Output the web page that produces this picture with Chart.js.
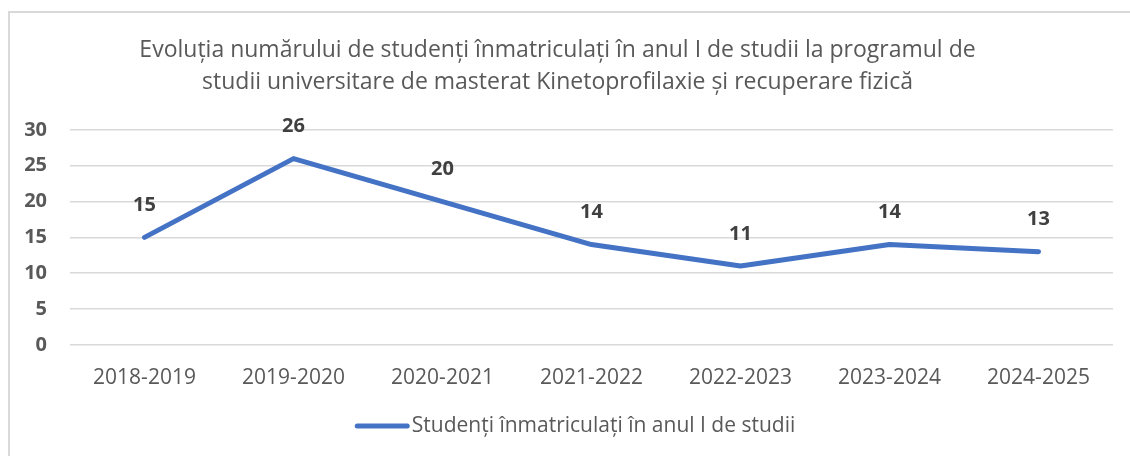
<!DOCTYPE html>
<html>
<head>
<meta charset="utf-8">
<script src="https://cdn.jsdelivr.net/npm/chart.js@4"></script>
<style>
html,body{margin:0;padding:0;background:#fff;overflow:hidden;}
#frame{position:absolute;left:8px;top:11px;width:1140px;height:460px;border:2px solid #d9d9d9;box-sizing:border-box;}
#wrap{position:absolute;left:0;top:0;width:1130px;height:456px;}
</style>
</head>
<body>
<div id="frame"></div>
<div id="wrap"><canvas id="c"></canvas></div>
<script>
const categories = ["2018-2019","2019-2020","2020-2021","2021-2022","2022-2023","2023-2024","2024-2025"];
const students = [15, 26, 20, 14, 11, 14, 13];
const seriesName = "Studenți înmatriculați în anul I de studii";
const titleLines = ["Evoluția numărului de studenți înmatriculați în anul I de studii la programul de","studii universitare de masterat Kinetoprofilaxie și recuperare fizică"];

const FONT = "'Open Sans', sans-serif";
const LINE_COLOR = '#4472C4';

const labelPlugin = {
  id: 'valueLabels',
  afterDatasetsDraw(chart) {
    const ctx = chart.ctx;
    const meta = chart.getDatasetMeta(0);
    ctx.save();
    ctx.font = "bold 20px " + FONT;
    ctx.fillStyle = "#404040";
    ctx.textAlign = "center";
    ctx.textBaseline = "middle";
    meta.data.forEach((pt, i) => {
      ctx.fillText(String(students[i]), pt.x, pt.y - 32);
    });
    ctx.restore();
  }
};

// Legend drawn below the axis in the reserved bottom padding
const legendPlugin = {
  id: 'bottomLegend',
  afterDraw(chart) {
    const ctx = chart.ctx;
    ctx.save();
    ctx.font = "21px " + FONT;
    const tw = ctx.measureText(seriesName).width;
    const lineLen = 50, gap = 6;
    const total = lineLen + 5 + gap + tw;
    const cx = 577;
    const y = chart.height - 30;
    let x0 = cx - total / 2 + 2.5;
    ctx.strokeStyle = LINE_COLOR;
    ctx.lineWidth = 5;
    ctx.lineCap = 'round';
    ctx.beginPath();
    ctx.moveTo(x0, y);
    ctx.lineTo(x0 + lineLen, y);
    ctx.stroke();
    ctx.fillStyle = '#595959';
    ctx.textAlign = 'left';
    ctx.textBaseline = 'middle';
    ctx.fillText(seriesName, x0 + lineLen + 2.5 + gap - 4, y);
    ctx.restore();
  }
};

new Chart(document.getElementById('c'), {
  type: 'line',
  data: {
    labels: categories,
    datasets: [{
      label: seriesName,
      data: students,
      borderColor: LINE_COLOR,
      backgroundColor: LINE_COLOR,
      borderWidth: 5,
      pointRadius: 0,
      pointHoverRadius: 0,
      tension: 0,
      borderCapStyle: 'round',
      borderJoinStyle: 'round',
      fill: false
    }]
  },
  options: {
    responsive: true,
    maintainAspectRatio: false,
    animation: false,
    events: [],
    layout: { padding: { left: 2, right: 17, top: 0, bottom: 44 } },
    plugins: {
      title: {
        display: true,
        text: titleLines,
        color: '#595959',
        font: { family: FONT, size: 23, weight: 'normal', lineHeight: 1.39 },
        padding: { top: 34, bottom: 32 }
      },
      legend: { display: false },
      tooltip: { enabled: false }
    },
    scales: {
      x: {
        offset: true,
        grid: { display: false, drawTicks: false },
        border: { display: false },
        ticks: { color: '#595959', font: { family: FONT, size: 21 }, padding: 21, maxRotation: 0 }
      },
      y: {
        min: 0, max: 30,
        grid: { color: '#d9d9d9', lineWidth: 1.5, drawTicks: false },
        border: { display: false },
        afterFit(scale) { scale.width = 68; },
        ticks: { stepSize: 5, color: '#595959', font: { family: FONT, size: 20, weight: 'bold' }, padding: 23 }
      }
    }
  },
  plugins: [labelPlugin, legendPlugin]
});
</script>
</body>
</html>
